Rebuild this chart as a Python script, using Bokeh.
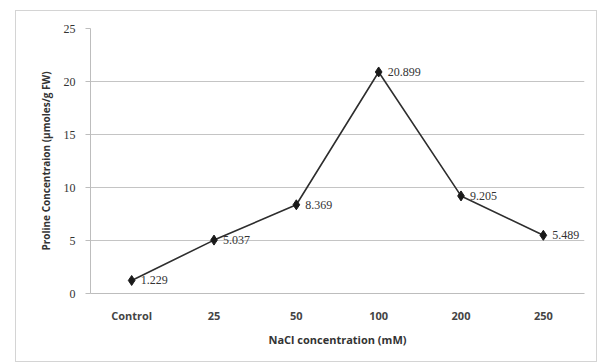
from bokeh.plotting import figure
from bokeh.models import ColumnDataSource, LabelSet, FixedTicker
from bokeh.embed import file_html
from bokeh.resources import INLINE

categories = ["Control", "25", "50", "100", "200", "250"]
proline = [1.229, 5.037, 8.369, 20.899, 9.205, 5.489]
labels = ["1.229", "5.037", "8.369", "20.899", "9.205", "5.489"]
y_ticks = [0, 5, 10, 15, 20, 25]

src = ColumnDataSource(dict(x=categories, y=proline, lab=labels))

p = figure(x_range=categories, y_range=(0, 25), width=582, height=352,
           output_backend="svg", toolbar_location=None,
           min_border_left=74, min_border_right=14, min_border_top=17, min_border_bottom=70)
p.margin = (10, 5, 0, 15)
p.styles = {"border": "1px solid #d4d4d4"}
p.outline_line_color = None
p.background_fill_color = "white"
p.border_fill_color = "white"

ticker = FixedTicker(ticks=y_ticks)
p.yaxis.ticker = ticker
p.ygrid.ticker = ticker
p.xgrid.visible = False
p.ygrid.grid_line_color = "#c4c4c4"
p.ygrid.grid_line_width = 1

p.line("x", "y", source=src, line_color="#2e2e2e", line_width=1.6)
p.scatter("x", "y", source=src, marker="diamond", size=10, fill_color="#1a1a1a", line_color="#1a1a1a")

lbl = LabelSet(x="x", y="y", text="lab", source=src, x_offset=9, y_offset=0,
               text_baseline="middle", text_align="left", text_font="Liberation Serif",
               text_font_size="12px", text_color="#333333")
p.add_layout(lbl)

p.yaxis.axis_line_color = "#bdbdbd"
p.yaxis.major_tick_line_color = "#bdbdbd"
p.yaxis.major_tick_out = 5
p.yaxis.major_tick_in = 0
p.yaxis.minor_tick_line_color = None
p.yaxis.major_label_text_font = "Liberation Serif"
p.yaxis.major_label_text_font_size = "12px"
p.yaxis.major_label_text_color = "#333333"
p.yaxis.major_label_standoff = 10
p.yaxis.axis_label = "Proline Concentraion (µmoles/g FW)"
p.yaxis.axis_label_text_font = "Open Sans"
p.yaxis.axis_label_text_font_style = "bold"
p.yaxis.axis_label_text_font_size = "10px"
p.yaxis.axis_label_text_color = "#333333"
p.yaxis.axis_label_standoff = 8

p.xaxis.axis_line_color = "#bdbdbd"
p.xaxis.major_tick_line_color = None
p.xaxis.minor_tick_line_color = None
p.xaxis.major_label_text_font = "Open Sans"
p.xaxis.major_label_text_font_style = "bold"
p.xaxis.major_label_text_font_size = "11px"
p.xaxis.major_label_text_color = "#444444"
p.xaxis.major_label_standoff = 8
p.xaxis.axis_label = "NaCl concentration (mM)"
p.xaxis.axis_label_text_font = "Open Sans"
p.xaxis.axis_label_text_font_style = "bold"
p.xaxis.axis_label_text_font_size = "11px"
p.xaxis.axis_label_text_color = "#333333"
p.xaxis.axis_label_standoff = 6

open("out.html", "w").write(file_html(p, INLINE))
